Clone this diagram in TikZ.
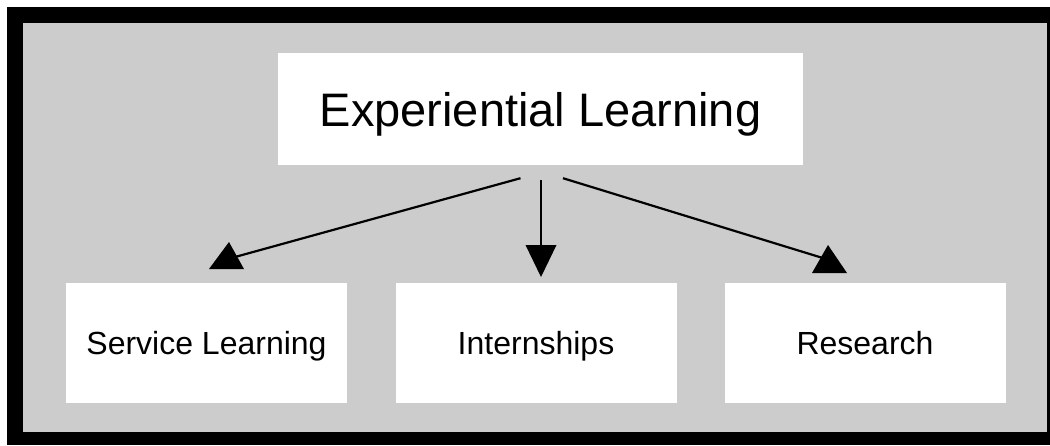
\documentclass[tikz,border=0pt]{standalone}
\usepackage{fontspec}
\setmainfont{Liberation Sans}
\usetikzlibrary{calc}
\definecolor{panel}{HTML}{CCCCCC}

\begin{document}
\begin{tikzpicture}[x=1pt,y=-1pt,
  box/.style={fill=white, inner sep=0pt, text depth=0pt},
  leaf/.style={box, minimum width=281pt, minimum height=120pt, text height=23pt, font=\fontsize{32}{36}\selectfont},
  link/.style={line width=2.2pt}]
\useasboundingbox (0,0) rectangle (1050,445);
% grey panel with the heavy black edge
\fill[black] (7,7) rectangle (1050,445);
\fill[panel] (23,23) rectangle (1047,432);

\node[box, minimum width=525pt, minimum height=112pt, text height=34pt, font=\fontsize{47}{52}\selectfont] (exp) at (540.5,109) {Experiential Learning};
\node[leaf] (svc) at (206.5,343) {Service Learning};
\node[leaf] (intern) at (536,343) {Internships};
\node[leaf] (res) at (865,343) {Research};

% arrow heads
\fill (229,242) -- ++(15,27) -- ++(-35,0) -- cycle;
\fill (828,245) -- ++(19,28) -- ++(-35,0) -- cycle;
\fill (541,277) -- ++(15.5,-32) -- ++(-31,0) -- cycle;
\coordinate (svctip) at (235,257);
\coordinate (interntip) at (541,250);
\coordinate (restip) at (826,259);

\draw[link] ($(exp.south)+(-20,13)$) -- (svctip);
\draw[link] ($(exp.south)+(0.5,15)$) -- (interntip);
\draw[link] ($(exp.south)+(22.5,13)$) -- (restip);
\end{tikzpicture}
\end{document}
